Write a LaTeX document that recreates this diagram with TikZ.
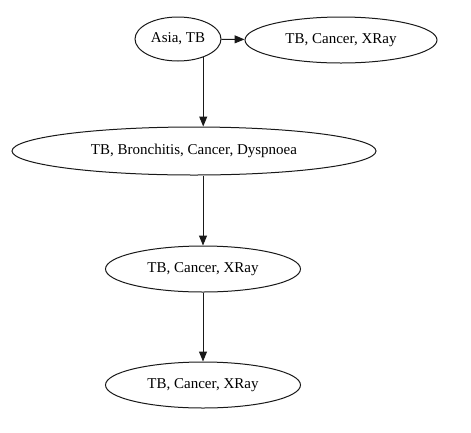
\documentclass[tikz,border=0pt]{standalone}
\usepackage{fontspec}
\setmainfont{Liberation Serif}
\usetikzlibrary{shapes.geometric,arrows.meta}
\begin{document}
\begin{tikzpicture}[x=1pt,y=-1pt,
    clique/.style={ellipse,draw=kLine,line width=1pt,inner sep=0pt,minimum height=46pt,font=\fontsize{15}{18}\selectfont},
    link/.style={draw=kLine,line width=1pt,-{Triangle[length=10pt,width=8pt]}}]
  \definecolor{kLine}{rgb}{0.1,0.1,0.1}
  \useasboundingbox (0,0) rectangle (471,432);

  \node[clique,minimum width=86pt,minimum height=44pt] (asia) at (178,39) {Asia, TB};
  \node[clique,minimum width=192pt] (xrayA) at (341,40) {TB, Cancer, XRay};
  \node[clique,minimum width=364pt,minimum height=48pt] (bronch) at (194,151) {TB, Bronchitis, Cancer, Dyspnoea};
  \node[clique,minimum width=195pt] (xrayB) at (203,269) {TB, Cancer, XRay};
  \node[clique,minimum width=195pt] (xrayC) at (203,385) {TB, Cancer, XRay};

  \draw[link] (asia) -- (xrayA);
  \draw[link] (asia.-36) -- (asia.-36 |- bronch.north);
  \draw[link] (xrayB.north |- bronch.south) -- (xrayB);
  \draw[link] (xrayB) -- (xrayC);
\end{tikzpicture}
\end{document}
